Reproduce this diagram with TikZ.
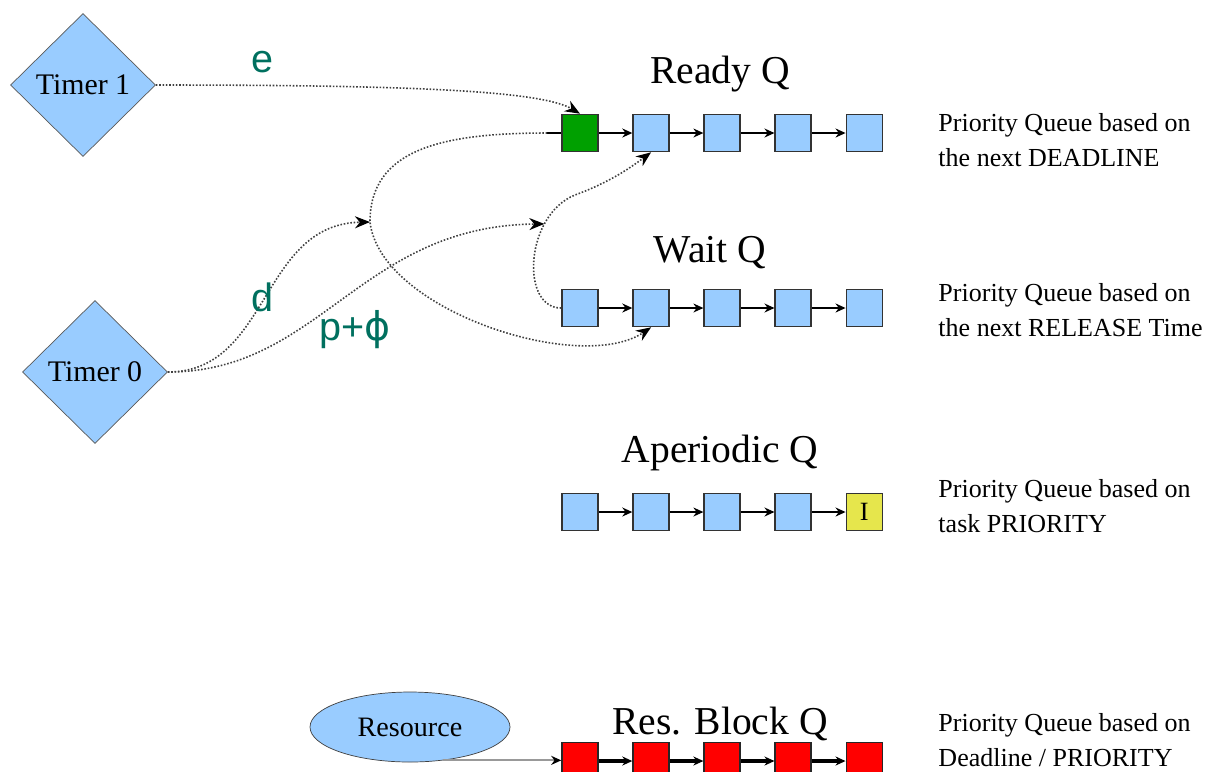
\documentclass[tikz,border=0pt]{standalone}
\usepackage{fontspec}
\setmainfont{Liberation Serif}
\setsansfont{Liberation Sans}
\newfontfamily\greekfont{DejaVu Sans}
\usepackage{tikz}
\usetikzlibrary{positioning, arrows.meta, shapes.geometric}
\usepackage{xcolor}

\definecolor{taskblue}{HTML}{99CCFF}
\definecolor{rungreen}{HTML}{00A000}
\definecolor{idleyellow}{HTML}{E6E64C}
\definecolor{blockred}{HTML}{FF0000}
\definecolor{labelteal}{HTML}{00705F}

\begin{document}
\begin{tikzpicture}[
        x=0.2mm, y=-0.2mm,
        node distance = 6.7mm,
        timer/.style  = {draw=black!65, diamond, fill=taskblue, minimum width=29mm, minimum height=28.6mm, inner sep=0pt, font=\fontsize{17}{20}\selectfont},
        res/.style    = {draw=black!75, ellipse, fill=taskblue, minimum width=40mm, minimum height=14mm, font=\fontsize{16}{19}\selectfont},
        task/.style   = {draw=black!80, line width=0.9pt, rectangle, fill=taskblue, minimum width=7.2mm, minimum height=7.4mm, inner sep=0pt},
        qname/.style  = {anchor=base, font=\fontsize{22.5}{27}\selectfont},
        desc/.style   = {align=left, inner sep=0pt, font=\fontsize{14.8}{19.8}\selectfont},
        tag/.style    = {text=labelteal, font=\sffamily\fontsize{22.5}{27}\selectfont},
        link/.style   = {-{Stealth[length=2mm, width=1.8mm]}, line width=0.8pt},
        blink/.style  = {link, line width=1.8pt},
        flow/.style   = {densely dotted, draw=black!75, line width=0.9pt, -{Stealth[length=3mm, width=2.4mm, black]}},
    ]
        \useasboundingbox (0,0) rectangle (1230,771);

        \node[timer] (t1) at (83,85) {Timer 1};
        \node[timer] (t0) at (95,372) {Timer 0};
        \node[res] (res) at (410,727) {Resource};

        % ready queue
        \node[qname] (readyq) at (720,83) {Ready Q};
        \node[task, fill=rungreen] (r1) at (580,133) {};
        \foreach \i [count=\j from 2] in {1,...,4}
            \node[task, right=of r\i] (r\j) {};
        \foreach \i [count=\j from 2] in {1,...,4}
            \draw[link] (r\i) -- (r\j);
        \node[desc, right=11mm of r5, yshift=-1.4mm] (readytxt) {Priority Queue based on\\the next DEADLINE};

        % wait queue
        \node[qname] (waitq) at (710,262) {Wait Q};
        \node[task] (w1) at (580,308) {};
        \foreach \i [count=\j from 2] in {1,...,4}
            \node[task, right=of w\i] (w\j) {};
        \foreach \i [count=\j from 2] in {1,...,4}
            \draw[link] (w\i) -- (w\j);
        \node[desc, right=11mm of w5, yshift=-0.4mm] (waittxt) {Priority Queue based on\\the next RELEASE Time};

        % aperiodic queue, idle task last
        \node[qname] (aperq) at (720,462) {Aperiodic Q};
        \node[task] (a1) at (580,512) {};
        \foreach \i [count=\j from 2] in {1,2,3}
            \node[task, right=of a\i] (a\j) {};
        \node[task, fill=idleyellow, right=of a4, font=\fontsize{15}{18}\selectfont] (a5) {I};
        \foreach \i [count=\j from 2] in {1,...,4}
            \draw[link] (a\i) -- (a\j);
        \node[desc, right=11mm of a5, yshift=1.2mm] (apertxt) {Priority Queue based on\\task PRIORITY};

        % resource blocked queue
        \node[qname] (blockq) at (720,734) {Res. Block Q};
        \node[task, fill=blockred, draw=black!85] (q1) at (580,761) {};
        \foreach \i [count=\j from 2] in {1,...,4}
            \node[task, fill=blockred, draw=black!85, right=of q\i] (q\j) {};
        \foreach \i [count=\j from 2] in {1,...,4}
            \draw[blink] (q\i) -- (q\j);
        \node[desc, right=11mm of q5, yshift=4.2mm] (blocktxt) {Priority Queue based on\\Deadline / PRIORITY};
        \draw[draw=black!40, line width=1.2pt, -{Stealth[length=2mm, width=1.8mm, black]}] (res.-45) -- (res.-45 -| q1.west);

        % timer events and queue moves
        \draw[flow] (t1.east) .. controls (400,85) and (540,90) .. (r1.north);
        \node[tag] (elbl) at (262,62) {e};

        \draw[line width=0.8pt] (r1.west) -- ++(-14,0) coordinate (r1tail);
        \draw[flow] (r1tail) .. controls (440,133) and (370,150) .. (370,222) coordinate (dhit)
            .. controls (380,310) and (580,375) .. (w2.south);
        \draw[flow] (w1.west) .. controls (520,308) and (525,215) .. (575,195) coordinate[pos=0.73] (phit)
            .. controls (610,182) and (630,168) .. (r2.south);

        \draw[flow] (t0.east) .. controls (270,372) and (260,224) .. (dhit);
        \node[tag] (dlbl) at (262,297) {d};
        \draw[flow] (t0.east) .. controls (320,372) and (360,226) .. (phit);
        \node[tag] (plbl) at (355,330) {p+{\greekfont ϕ}};
    \end{tikzpicture}
\end{document}
